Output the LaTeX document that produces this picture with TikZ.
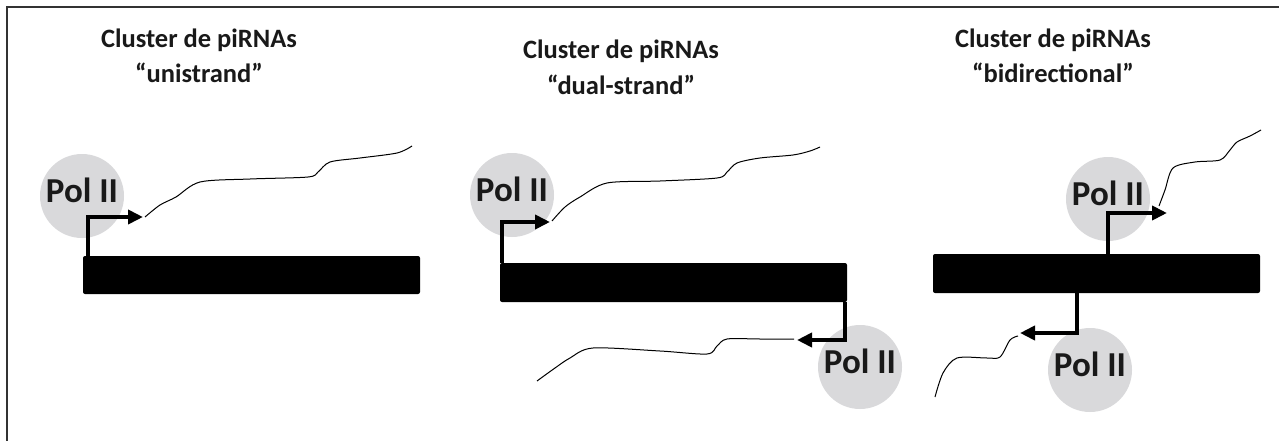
\documentclass[tikz,border=0pt]{standalone}
\usepackage{fontspec}
\setmainfont{Carlito}
\usetikzlibrary{positioning,arrows.meta,calc}
\definecolor{polgray}{RGB}{217,217,219}
\definecolor{ink}{RGB}{25,25,25}

\begin{document}
\begin{tikzpicture}
    [ x = 1pt, y = -1pt
    , title/.style =
      { anchor = base, inner sep = 0pt, text = ink
      , font = \bfseries\fontsize{26.5}{30}\selectfont }
    , polii/.style =
      { circle, fill = polgray, minimum size = 84pt, inner sep = 0pt
      , text depth = 12pt, text = ink
      , font = \bfseries\fontsize{35}{38}\selectfont }
    , cluster/.style =
      { fill = black, rounded corners = 2pt, inner sep = 0pt }
    , tss/.style =
      { line width = 3.8pt, -{Triangle[length=15pt, width=14pt]} }
    , rna/.style =
      { line width = 1pt, line join = round }
    , frame/.style =
      { line width = 2pt, gray!40!black }
    ]
    \useasboundingbox (0,0) rectangle (1279,441);
    \draw [frame] (7,441) -- (7,7) -- (1279,7);

    % titles
    \node [title] (title1) at (199,48) {Cluster de piRNAs};
    \node [title] (sub1) at (199,83) {“unistrand”};
    \node [title] (title2) at (621,59) {Cluster de piRNAs};
    \node [title] (sub2) at (621,95) {“dual-strand”};
    \node [title] (title3) at (1053,48) {Cluster de piRNAs};
    \node [title] (sub3) at (1053,83) {“bidirectional”};

    % polymerases
    \node [polii] (pol1) at (82,196) {Pol II};
    \node [polii] (pol2) at (512,195) {Pol II};
    \node [polii] (pol3) at (860,367) {Pol II};
    \node [polii] (pol4) at (1108,199) {Pol II};
    \node [polii] (pol5) at (1090,370) {Pol II};

    % clusters
    \node [cluster, minimum width=337pt, minimum height=38pt] (bar1) at (251.5,275) {};
    \node [cluster, minimum width=347pt, minimum height=39pt] (bar2) at (673.5,282.5) {};
    \node [cluster, minimum width=327pt, minimum height=39pt] (bar3) at (1096.5,273.5) {};

    % transcription start sites
    \coordinate (tip1) at (143,217);
    \coordinate (tip2) at (550,222);
    \coordinate (tip3) at (797,340);
    \coordinate (tip4) at (1167,213);
    \coordinate (tip5) at (1020,333);
    \draw [tss] ($(bar1.north west)+(5,0)$) |- (tip1);
    \draw [tss] ($(bar2.north west)+(2,0)$) |- (tip2);
    \draw [tss] ($(bar2.south east)+(-2,0)$) |- (tip3);
    \draw [tss] (bar3.north -| pol4) |- (tip4);
    \draw [tss] ($(bar3.south)+(-19.5,0)$) |- (tip5);

    % transcripts
    \coordinate (end1) at (412,146);
    \coordinate (end2) at (820,147);
    \coordinate (end3) at (537,381);
    \coordinate (end4) at (1261,130);
    \coordinate (end5) at (935,397);
    \draw [rna] plot [smooth, tension=.5] coordinates
      { ($(tip1)+(2,0)$) (160,205) (176,197) (200,182) (250,179) (308,177)
        (318,172) (330,162) (360,158) (397,153) (end1) };
    \draw [rna] plot [smooth, tension=.5] coordinates
      { ($(tip2)+(2,-1)$) (565,207) (580,197) (607,183) (660,181) (717,178)
        (727,172) (737,163) (760,158) (793,155) (810,151) (end2) };
    \draw [rna] plot [smooth, tension=.5] coordinates
      { ($(tip3)+(-3,-1)$) (760,339) (727,339) (717,346) (707,354) (660,351)
        (593,348) (570,358) (555,368) (end3) };
    \draw [rna] plot [smooth, tension=.5] coordinates
      { (1159,206) (1165,190) (1173,168) (1195,162) (1220,160) (1230,150)
        (1237,142) (1250,136) (end4) };
    \draw [rna] plot [smooth, tension=.5] coordinates
      { ($(tip5)+(-2,3)$) (1010,340) (1000,357) (987,358) (957,358) (943,373)
        (end5) };
\end{tikzpicture}
\end{document}
